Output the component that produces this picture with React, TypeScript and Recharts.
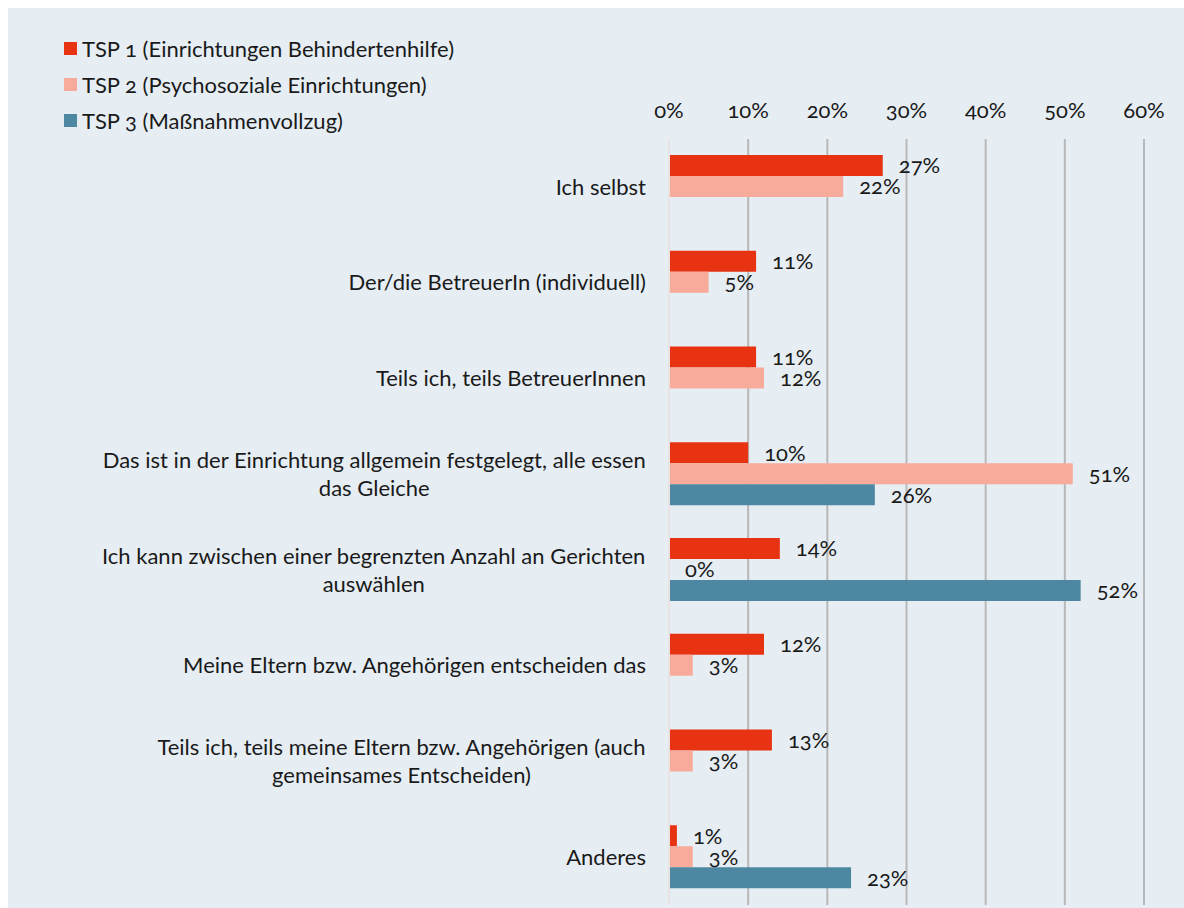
import React from "react";
import {
  BarChart,
  Bar,
  XAxis,
  YAxis,
  CartesianGrid,
  ReferenceLine,
  LabelList,
} from "recharts";

const categories = [
  "Ich selbst",
  "Der/die BetreuerIn (individuell)",
  "Teils ich, teils BetreuerInnen",
  "Das ist in der Einrichtung allgemein festgelegt, alle essen\ndas Gleiche",
  "Ich kann zwischen einer begrenzten Anzahl an Gerichten\nauswählen",
  "Meine Eltern bzw. Angehörigen entscheiden das",
  "Teils ich, teils meine Eltern bzw. Angehörigen (auch\ngemeinsames Entscheiden)",
  "Anderes",
];

const tsp1 = [27, 11, 11, 10, 14, 12, 13, 1];
const tsp2 = [22, 5, 12, 51, 0, 3, 3, 3];
const tsp3 = [null, null, null, 26, 52, null, null, 23];

const xTicks = [0, 10, 20, 30, 40, 50, 60];

const seriesNames = [
  "TSP 1 (Einrichtungen Behindertenhilfe)",
  "TSP 2 (Psychosoziale Einrichtungen)",
  "TSP 3 (Maßnahmenvollzug)",
];

const colors = ["#e73312", "#f9ab9b", "#4d87a1"];

const data = categories.map((name, i) => ({
  name,
  tsp1: tsp1[i],
  tsp2: tsp2[i],
  tsp3: tsp3[i],
}));

const FONT = "Lato, 'Open Sans', sans-serif";
const TEXT = "#1a1a1a";
const SIZE = 22;

let ctx: CanvasRenderingContext2D | null = null;
function measure(text: string, size: number) {
  if (!ctx) ctx = document.createElement("canvas").getContext("2d");
  if (!ctx) return text.length * size * 0.5;
  ctx.font = `${size}px Lato`;
  return ctx.measureText(text).width;
}

function CategoryTick(props: any) {
  const { x, y, payload } = props;
  const lines = String(payload.value).split("\n");
  const lh = 28;
  const widest = Math.max(...lines.map((l) => measure(l, SIZE)));
  const top = y - ((lines.length - 1) * lh) / 2;
  return (
    <g>
      {lines.map((l, i) => (
        <text
          key={i}
          x={lines.length > 1 ? x - widest / 2 : x}
          y={top + i * lh}
          dy="0.35em"
          textAnchor={lines.length > 1 ? "middle" : "end"}
          fill={TEXT}
          fontSize={SIZE}
          fontFamily={FONT}
        >
          {l}
        </text>
      ))}
    </g>
  );
}

const fmt = (v: any) => (v === null || v === undefined ? "" : `${v}%`);

export default function App() {
  return (
    <div
      style={{
        position: "fixed",
        left: 8,
        top: 8,
        width: 1176,
        height: 900,
        background: "#e6eef4",
        fontFamily: FONT,
        fontVariantNumeric: "oldstyle-nums",
      }}
    >
      <div style={{ position: "absolute", left: 56, top: 22, zIndex: 1 }}>
        {seriesNames.map((s, i) => (
          <div
            key={s}
            style={{
              display: "flex",
              alignItems: "center",
              height: 36,
              fontSize: SIZE,
              color: TEXT,
            }}
          >
            <span
              style={{
                width: 13,
                height: 13,
                background: colors[i],
                marginRight: 5,
                display: "inline-block",
              }}
            />
            {s}
          </div>
        ))}
      </div>
      <BarChart
        width={1176}
        height={900}
        data={data}
        layout="vertical"
        margin={{ top: 101, right: 40, bottom: 3, left: 0 }}
        barGap={0}
      >
        <CartesianGrid horizontal={false} stroke="#b8b8b8" strokeWidth={2} />
        <ReferenceLine x={0} stroke="#e8e2e2" strokeWidth={2} />
        <XAxis
          type="number"
          orientation="top"
          domain={[0, 60]}
          ticks={xTicks}
          tickFormatter={(v) => `${v}%`}
          axisLine={false}
          tickLine={false}
          tickSize={0}
          tickMargin={21}
          height={30}
          tick={{ fill: TEXT, fontSize: SIZE, fontFamily: FONT }}
        />
        <YAxis
          type="category"
          dataKey="name"
          width={661}
          axisLine={false}
          tickLine={false}
          tickSize={8}
          tickMargin={15}
          interval={0}
          tick={<CategoryTick />}
        />
        {(["tsp1", "tsp2", "tsp3"] as const).map((k, i) => (
          <Bar
            key={k}
            dataKey={k}
            fill={colors[i]}
            barSize={21}
            minPointSize={k === "tsp2" ? 0.01 : 0}
            isAnimationActive={false}
          >
            <LabelList
              dataKey={k}
              position="right"
              offset={16}
              formatter={fmt}
              fill={TEXT}
              fontSize={SIZE}
              fontFamily={FONT}
            />
          </Bar>
        ))}
      </BarChart>
    </div>
  );
}
